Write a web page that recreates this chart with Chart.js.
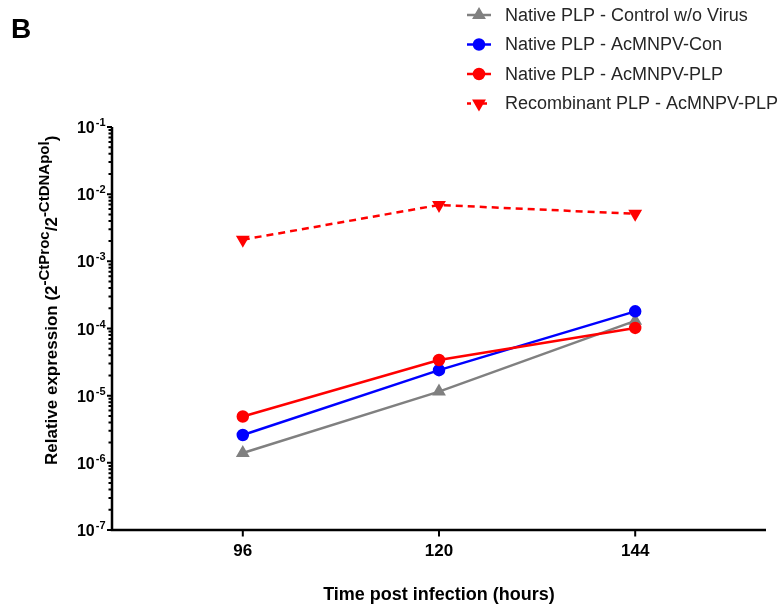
<!DOCTYPE html>
<html>
<head>
<meta charset="utf-8">
<script src="https://cdn.jsdelivr.net/npm/chart.js@4.4.0/dist/chart.umd.min.js"></script>
<style>
  html, body { margin: 0; padding: 0; background: #fff; }
</style>
</head>
<body>
<canvas id="expr-chart" width="779" height="607"></canvas>
<script>
// datos
const timePoints = [96, 120, 144];
const controlValues = [1.4e-6, 1.15e-5, 1.3e-4];
const acConValues = [2.6e-6, 2.4e-5, 1.8e-4];
const acPlpValues = [4.9e-6, 3.4e-5, 1.02e-4];
const recombinantValues = [2.1e-3, 6.9e-3, 5.1e-3];
const seriesNames = [
  'Native PLP - Control w/o Virus',
  'Native PLP - AcMNPV-Con',
  'Native PLP - AcMNPV-PLP',
  'Recombinant PLP - AcMNPV-PLP'
];
const yTickPowers = [-7, -6, -5, -4, -3, -2, -1];
const xTickValues = [96, 120, 144];
const xTitle = 'Time post infection (hours)';
const panelLetter = 'B';

const FONT = '"Liberation Sans", Arial, sans-serif';

function toPoints(values) {
  return timePoints.map((t, i) => ({ x: t, y: values[i] }));
}

// ejes, textos y leyenda dibujados a mano (superindices)
const decorPlugin = {
  id: 'decor',
  afterDraw(chart) {
    const ctx = chart.ctx;
    const ca = chart.chartArea;
    const xs = chart.scales.x;
    const ys = chart.scales.y;
    ctx.save();

    // letra del panel
    ctx.fillStyle = '#000';
    ctx.font = 'bold 28px ' + FONT;
    ctx.textAlign = 'left';
    ctx.textBaseline = 'middle';
    ctx.fillText(panelLetter, 11, 30);

    // lineas de ejes
    ctx.strokeStyle = '#000';
    ctx.lineWidth = 2.5;
    ctx.beginPath();
    ctx.moveTo(ca.left, ca.top);
    ctx.lineTo(ca.left, ca.bottom + 1.2);
    ctx.moveTo(ca.left - 1.2, ca.bottom);
    ctx.lineTo(ca.right, ca.bottom);
    ctx.stroke();

    // marcas del eje y
    ctx.beginPath();
    yTickPowers.forEach(p => {
      const py = ys.getPixelForValue(Math.pow(10, p));
      ctx.moveTo(ca.left - 5, py);
      ctx.lineTo(ca.left, py);
      if (p < -1) {
        for (let k = 2; k <= 9; k++) {
          const my = ys.getPixelForValue(k * Math.pow(10, p));
          ctx.moveTo(ca.left - 3.5, my);
          ctx.lineTo(ca.left, my);
        }
      }
    });
    // marcas del eje x
    xTickValues.forEach(v => {
      const px = xs.getPixelForValue(v);
      ctx.moveTo(px, ca.bottom);
      ctx.lineTo(px, ca.bottom + 6.5);
    });
    ctx.lineWidth = 2;
    ctx.stroke();

    // etiquetas del eje y: 10 con exponente
    yTickPowers.forEach(p => {
      const py = ys.getPixelForValue(Math.pow(10, p));
      const sup = '-' + Math.abs(p);
      ctx.font = 'bold 11px ' + FONT;
      const supW = ctx.measureText(sup).width;
      const right = ca.left - 6.5;
      ctx.textAlign = 'left';
      ctx.textBaseline = 'alphabetic';
      ctx.fillText(sup, right - supW, py - 1);
      ctx.font = 'bold 16px ' + FONT;
      ctx.textAlign = 'right';
      ctx.fillText('10', right - supW - 1, py + 6);
    });

    // etiquetas del eje x
    ctx.font = 'bold 17px ' + FONT;
    ctx.textAlign = 'center';
    ctx.textBaseline = 'middle';
    xTickValues.forEach(v => {
      ctx.fillText(String(v), xs.getPixelForValue(v), 551);
    });

    // titulo eje x
    ctx.font = 'bold 18px ' + FONT;
    ctx.fillText(xTitle, (ca.left + ca.right) / 2, 595);

    // titulo eje y (rotado, con superindices)
    const pieces = [
      { t: 'Relative expression (2', sup: false },
      { t: '-CtProc', sup: true },
      { t: '/2', sup: false },
      { t: '-CtDNApol', sup: true },
      { t: ')', sup: false }
    ];
    ctx.translate(57, 465);
    ctx.rotate(-Math.PI / 2);
    ctx.textAlign = 'left';
    ctx.textBaseline = 'alphabetic';
    let cx = 0;
    pieces.forEach(pc => {
      ctx.font = (pc.sup ? 'bold 15px ' : 'bold 17px ') + FONT;
      ctx.fillText(pc.t, cx, pc.sup ? -8 : 0);
      cx += ctx.measureText(pc.t).width;
    });
    ctx.setTransform(1, 0, 0, 1, 0, 0);

    // leyenda
    chart.data.datasets.forEach((ds, i) => {
      const ly = 15 + i * 29.5;
      ctx.strokeStyle = ds.borderColor;
      ctx.fillStyle = ds.backgroundColor;
      ctx.lineWidth = 2.5;
      ctx.setLineDash(ds.borderDash ? [4, 4] : []);
      ctx.beginPath();
      ctx.moveTo(467, ly);
      ctx.lineTo(491, ly);
      ctx.stroke();
      ctx.setLineDash([]);
      Chart.helpers.drawPoint(ctx, {
        pointStyle: ds.pointStyle,
        radius: ds.pointRadius,
        rotation: ds.pointRotation || 0,
        borderWidth: 1
      }, 479, ly);
      ctx.fillStyle = '#262626';
      ctx.font = '18px ' + FONT;
      ctx.textAlign = 'left';
      ctx.textBaseline = 'middle';
      ctx.fillText(ds.label, 505, ly + 1);
    });

    ctx.restore();
  }
};

const ctx = document.getElementById('expr-chart').getContext('2d');
new Chart(ctx, {
  type: 'line',
  data: {
    datasets: [{
      label: seriesNames[0],
      data: toPoints(controlValues),
      borderColor: '#808080',
      backgroundColor: '#808080',
      pointStyle: 'triangle',
      pointRadius: 5.5,
      borderWidth: 2.5,
      order: 4
    }, {
      label: seriesNames[1],
      data: toPoints(acConValues),
      borderColor: '#0000ff',
      backgroundColor: '#0000ff',
      pointStyle: 'circle',
      pointRadius: 5,
      borderWidth: 2.5,
      order: 3
    }, {
      label: seriesNames[2],
      data: toPoints(acPlpValues),
      borderColor: '#ff0000',
      backgroundColor: '#ff0000',
      pointStyle: 'circle',
      pointRadius: 5,
      borderWidth: 2.5,
      order: 2
    }, {
      label: seriesNames[3],
      data: toPoints(recombinantValues),
      borderColor: '#ff0000',
      backgroundColor: '#ff0000',
      pointStyle: 'triangle',
      pointRotation: 180,
      pointRadius: 5.5,
      borderWidth: 2.5,
      borderDash: [7, 5],
      order: 1
    }]
  },
  options: {
    responsive: false,
    animation: false,
    layout: { padding: { left: 112, top: 127, right: 13, bottom: 77 } },
    elements: { line: { tension: 0 }, point: { borderWidth: 1 } },
    plugins: { legend: { display: false }, tooltip: { enabled: false } },
    scales: {
      x: { type: 'linear', min: 80, max: 160, display: false },
      y: { type: 'logarithmic', min: 1e-7, max: 1e-1, display: false }
    }
  },
  plugins: [decorPlugin]
});
</script>
</body>
</html>
